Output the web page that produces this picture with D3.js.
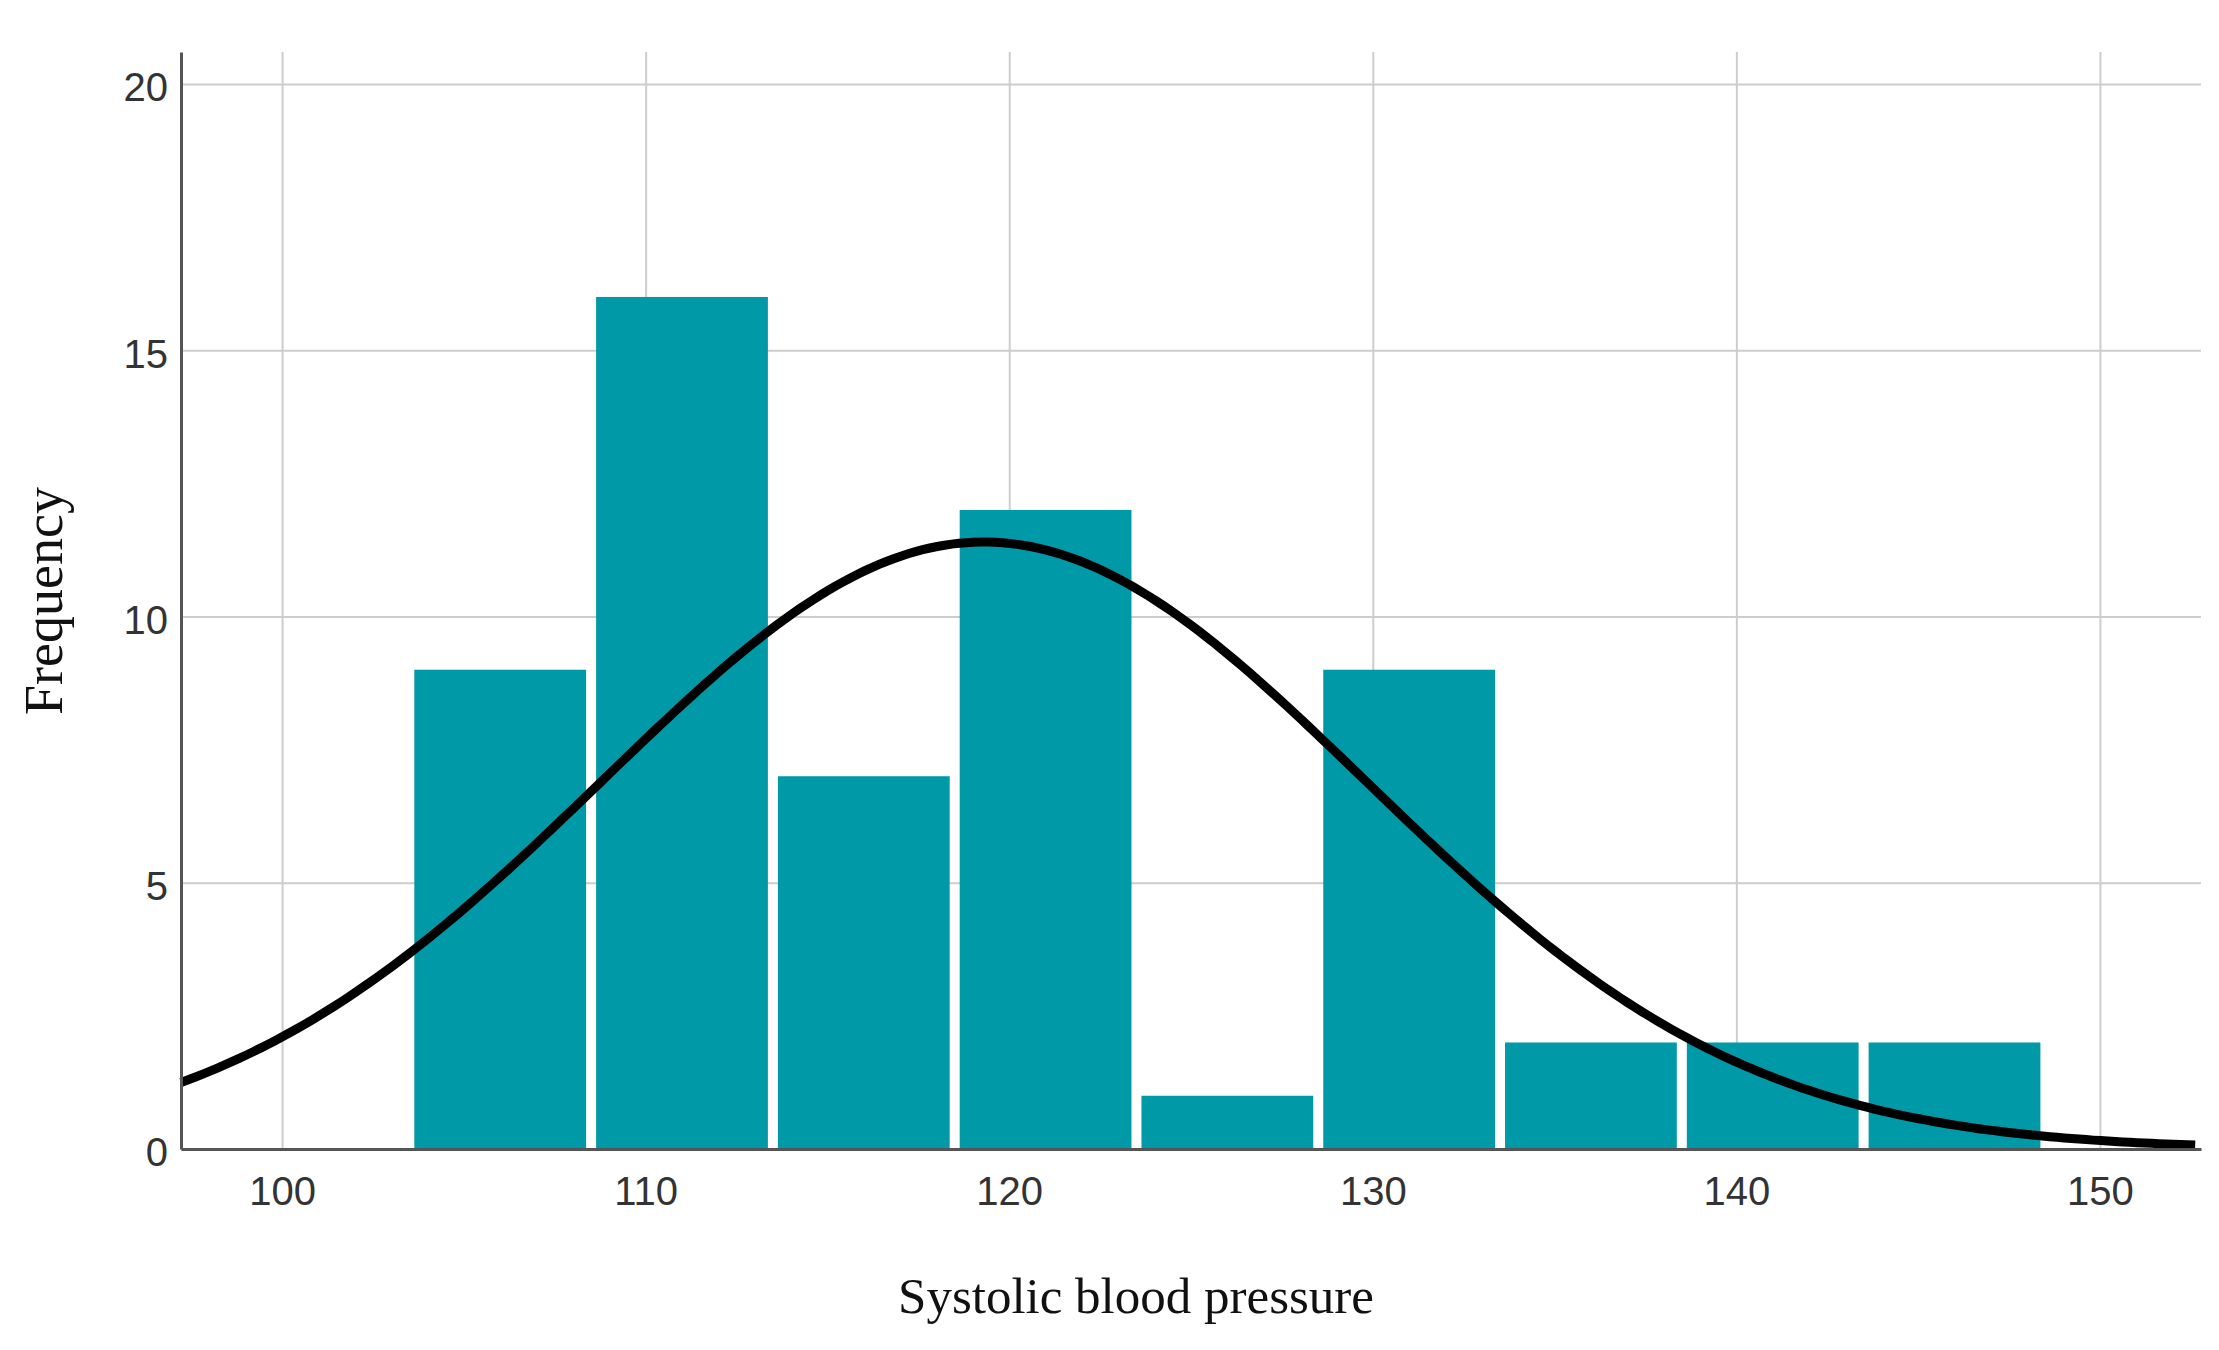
<!DOCTYPE html>
<html>
<head>
<meta charset="utf-8">
<script src="https://cdn.jsdelivr.net/npm/d3@7"></script>
<style>
  body { margin: 0; background: #fff; }
  .tick text { font-family: "Liberation Sans", Arial, sans-serif; font-size: 40px; fill: #333; }
  .title { font-family: "Liberation Serif", "Times New Roman", serif; fill: #111; }
</style>
</head>
<body>
<svg id="chart" width="2219" height="1350"></svg>
<script>
// histogram bins (lower edges), counts per bin
const binStarts = [103.5, 108.5, 113.5, 118.5, 123.5, 128.5, 133.5, 138.5, 143.5];
const counts = [9, 16, 7, 12, 1, 9, 2, 2, 2];
const binWidth = 5;

// fitted normal curve parameters
const curveMean = 119.3;
const curveSd = 10.5;

const xTicks = [100, 110, 120, 130, 140, 150];
const yTicks = [0, 5, 10, 15, 20];

const margin = { left: 181, right: 18, top: 52, bottom: 201 };
const W = 2219, H = 1350;
const width = W - margin.left - margin.right;
const height = H - margin.top - margin.bottom;

const svg = d3.select("#chart");
const g = svg.append("g").attr("transform", `translate(${margin.left},${margin.top})`);

const x = d3.scaleLinear().domain([97.22, 152.78]).range([0, width]);
const y = d3.scaleLinear().domain([0, 20.6]).range([height, 0]);

// gridlines
g.append("g")
  .attr("transform", `translate(0,${height})`)
  .call(d3.axisBottom(x).tickValues(xTicks).tickSize(-height).tickFormat(""))
  .call(s => s.select(".domain").remove())
  .call(s => s.selectAll("line").attr("stroke", "#cdcdcd").attr("stroke-width", 2));

g.append("g")
  .call(d3.axisLeft(y).tickValues(yTicks).tickSize(-width).tickFormat(""))
  .call(s => s.select(".domain").remove())
  .call(s => s.selectAll("line").attr("stroke", "#cdcdcd").attr("stroke-width", 2));

// bars
const inset = 5;
const bins = binStarts.map((b, i) => ({ x0: b, x1: b + binWidth, n: counts[i] }));
g.selectAll("rect.bar")
  .data(bins)
  .enter()
  .append("rect")
  .attr("class", "bar")
  .attr("x", d => x(d.x0) + inset)
  .attr("width", d => x(d.x1) - x(d.x0) - inset * 2)
  .attr("y", d => y(d.n))
  .attr("height", d => y(0) - y(d.n))
  .attr("fill", "#0099a7");

// normal curve scaled to counts
const total = d3.sum(counts);
const density = v => total * binWidth / (curveSd * Math.sqrt(2 * Math.PI)) *
  Math.exp(-0.5 * Math.pow((v - curveMean) / curveSd, 2));
const xs = d3.range(x.domain()[0], x.domain()[1] + 0.001, 0.2);

g.append("path")
  .datum(xs)
  .attr("fill", "none")
  .attr("stroke", "#000")
  .attr("stroke-width", 9)
  .attr("d", d3.line().x(d => x(d)).y(d => y(density(d))));

// axes
g.append("g")
  .attr("transform", `translate(0,${height})`)
  .call(d3.axisBottom(x).tickValues(xTicks).tickSize(0).tickPadding(28))
  .call(s => s.select(".domain").attr("stroke", "#555").attr("stroke-width", 3));

g.append("g")
  .call(d3.axisLeft(y).tickValues(yTicks).tickSize(0).tickPadding(13))
  .call(s => s.select(".domain").attr("stroke", "#555").attr("stroke-width", 3))
  .call(s => s.selectAll("text").attr("dy", "0.42em"));

// titles
svg.append("text")
  .attr("class", "title")
  .attr("x", 1136)
  .attr("y", 1313)
  .attr("text-anchor", "middle")
  .attr("font-size", 51)
  .text("Systolic blood pressure");

svg.append("text")
  .attr("class", "title")
  .attr("transform", "translate(62,601) rotate(-90)")
  .attr("text-anchor", "middle")
  .attr("font-size", 54)
  .text("Frequency");
</script>
</body>
</html>
